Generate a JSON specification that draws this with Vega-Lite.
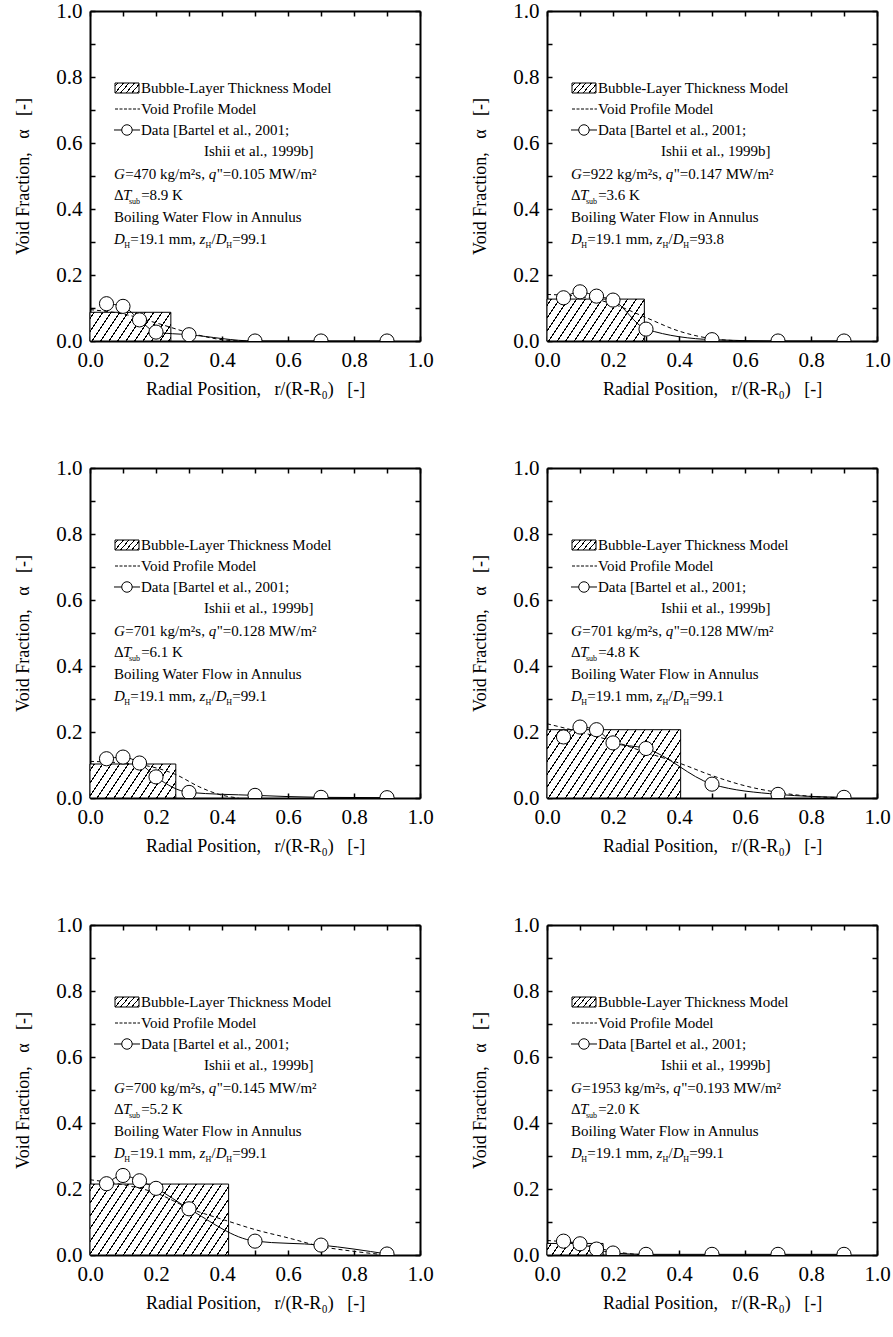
{
"$schema":"https://vega.github.io/schema/vega-lite/v6.json",
"background":"white",
"padding":{"left":14,"top":0,"right":5,"bottom":5},
"datasets":{
"bars":[{"p":1,"r":0.245,"a":0.087},{"p":2,"r":0.295,"a":0.127},{"p":3,"r":0.26,"a":0.103},{"p":4,"r":0.405,"a":0.207},{"p":5,"r":0.42,"a":0.215},{"p":6,"r":0.17,"a":0.035}],
"pts":[
{"p":1,"r":0.05,"a":0.113},{"p":1,"r":0.1,"a":0.105},{"p":1,"r":0.15,"a":0.064},{"p":1,"r":0.2,"a":0.027},{"p":1,"r":0.3,"a":0.019},{"p":1,"r":0.5,"a":0.0},{"p":1,"r":0.7,"a":0.0},{"p":1,"r":0.9,"a":0.0},
{"p":2,"r":0.05,"a":0.131},{"p":2,"r":0.1,"a":0.149},{"p":2,"r":0.15,"a":0.136},{"p":2,"r":0.2,"a":0.124},{"p":2,"r":0.3,"a":0.036},{"p":2,"r":0.5,"a":0.004},{"p":2,"r":0.7,"a":0.0},{"p":2,"r":0.9,"a":0.0},
{"p":3,"r":0.05,"a":0.119},{"p":3,"r":0.1,"a":0.124},{"p":3,"r":0.15,"a":0.106},{"p":3,"r":0.2,"a":0.064},{"p":3,"r":0.3,"a":0.017},{"p":3,"r":0.5,"a":0.008},{"p":3,"r":0.7,"a":0.002},{"p":3,"r":0.9,"a":0.001},
{"p":4,"r":0.05,"a":0.185},{"p":4,"r":0.1,"a":0.215},{"p":4,"r":0.15,"a":0.207},{"p":4,"r":0.2,"a":0.167},{"p":4,"r":0.3,"a":0.15},{"p":4,"r":0.5,"a":0.042},{"p":4,"r":0.7,"a":0.011},{"p":4,"r":0.9,"a":0.002},
{"p":5,"r":0.05,"a":0.216},{"p":5,"r":0.1,"a":0.241},{"p":5,"r":0.15,"a":0.225},{"p":5,"r":0.2,"a":0.202},{"p":5,"r":0.3,"a":0.14},{"p":5,"r":0.5,"a":0.042},{"p":5,"r":0.7,"a":0.03},{"p":5,"r":0.9,"a":0.003},
{"p":6,"r":0.05,"a":0.042},{"p":6,"r":0.1,"a":0.034},{"p":6,"r":0.15,"a":0.018},{"p":6,"r":0.2,"a":0.006},{"p":6,"r":0.3,"a":0.002},{"p":6,"r":0.5,"a":0.002},{"p":6,"r":0.7,"a":0.002},{"p":6,"r":0.9,"a":0.002}
],
"model":[
{"p":1,"r":0,"a":0.095},{"p":1,"r":0.1,"a":0.082},{"p":1,"r":0.2,"a":0.055},{"p":1,"r":0.3,"a":0.025},{"p":1,"r":0.4,"a":0.004},{"p":1,"r":0.45,"a":0},
{"p":2,"r":0,"a":0.141},{"p":2,"r":0.1,"a":0.135},{"p":2,"r":0.2,"a":0.112},{"p":2,"r":0.3,"a":0.071},{"p":2,"r":0.4,"a":0.03},{"p":2,"r":0.5,"a":0.007},{"p":2,"r":0.6,"a":0},
{"p":3,"r":0,"a":0.111},{"p":3,"r":0.15,"a":0.101},{"p":3,"r":0.26,"a":0.071},{"p":3,"r":0.333,"a":0.033},{"p":3,"r":0.394,"a":0.01},{"p":3,"r":0.45,"a":0},
{"p":4,"r":0,"a":0.225},{"p":4,"r":0.1,"a":0.2},{"p":4,"r":0.2,"a":0.172},{"p":4,"r":0.3,"a":0.138},{"p":4,"r":0.4,"a":0.106},{"p":4,"r":0.5,"a":0.068},{"p":4,"r":0.6,"a":0.037},{"p":4,"r":0.7,"a":0.017},{"p":4,"r":0.8,"a":0.005},{"p":4,"r":0.9,"a":0.001},
{"p":5,"r":0,"a":0.228},{"p":5,"r":0.1,"a":0.213},{"p":5,"r":0.2,"a":0.188},{"p":5,"r":0.3,"a":0.142},{"p":5,"r":0.42,"a":0.102},{"p":5,"r":0.5,"a":0.077},{"p":5,"r":0.6,"a":0.052},{"p":5,"r":0.7,"a":0.026},{"p":5,"r":0.8,"a":0.011},{"p":5,"r":0.9,"a":0},
{"p":6,"r":0,"a":0.044},{"p":6,"r":0.1,"a":0.034},{"p":6,"r":0.2,"a":0.011},{"p":6,"r":0.25,"a":0.004},{"p":6,"r":0.3,"a":0}
],
"leg":[
{"k":"box","r":0.0758,"r2":0.1485,"a":0.7515,"a2":0.7818},
{"k":"dash","r":0.0758,"r2":0.1515,"a":0.703},
{"k":"line","r":0.0727,"r2":0.1515,"a":0.6394},
{"k":"pt","r":0.112,"a":0.6394}
],
"txt":[
{"p":0,"r":0.1545,"a":0.7515,"t":"Bubble-Layer Thickness Model"},
{"p":0,"r":0.1545,"a":0.6879,"t":"Void Profile Model"},
{"p":0,"r":0.1545,"a":0.6242,"t":"Data [Bartel et al., 2001;"},
{"p":0,"r":0.3455,"a":0.5606,"t":"Ishii et al., 1999b]"},
{"p":0,"r":0.0727,"a":0.4273,"t":"\u0394"},
{"p":0,"r":0.0727,"a":0.3606,"t":"Boiling Water Flow in Annulus"},
{"p":0,"r":0.1222,"a":0.2939,"t":"=19.1 mm,"},
{"p":0,"r":0.3682,"a":0.2939,"t":"/"},
{"p":1,"r":0.107,"a":0.4909,"t":"=470 kg/m\u00b2s,"},{"p":1,"r":0.3839,"a":0.4909,"t":"\"=0.105 MW/m\u00b2"},{"p":1,"r":0.155,"a":0.4273,"t":"=8.9 K"},{"p":1,"r":0.4309,"a":0.2939,"t":"=99.1"},
{"p":2,"r":0.107,"a":0.4909,"t":"=922 kg/m\u00b2s,"},{"p":2,"r":0.3839,"a":0.4909,"t":"\"=0.147 MW/m\u00b2"},{"p":2,"r":0.155,"a":0.4273,"t":"=3.6 K"},{"p":2,"r":0.4309,"a":0.2939,"t":"=93.8"},
{"p":3,"r":0.107,"a":0.4909,"t":"=701 kg/m\u00b2s,"},{"p":3,"r":0.3839,"a":0.4909,"t":"\"=0.128 MW/m\u00b2"},{"p":3,"r":0.155,"a":0.4273,"t":"=6.1 K"},{"p":3,"r":0.4309,"a":0.2939,"t":"=99.1"},
{"p":4,"r":0.107,"a":0.4909,"t":"=701 kg/m\u00b2s,"},{"p":4,"r":0.3839,"a":0.4909,"t":"\"=0.128 MW/m\u00b2"},{"p":4,"r":0.155,"a":0.4273,"t":"=4.8 K"},{"p":4,"r":0.4309,"a":0.2939,"t":"=99.1"},
{"p":5,"r":0.107,"a":0.4909,"t":"=700 kg/m\u00b2s,"},{"p":5,"r":0.3839,"a":0.4909,"t":"\"=0.145 MW/m\u00b2"},{"p":5,"r":0.155,"a":0.4273,"t":"=5.2 K"},{"p":5,"r":0.4309,"a":0.2939,"t":"=99.1"},
{"p":6,"r":0.107,"a":0.4909,"t":"=1953 kg/m\u00b2s,"},{"p":6,"r":0.4066,"a":0.4909,"t":"\"=0.193 MW/m\u00b2"},{"p":6,"r":0.155,"a":0.4273,"t":"=2.0 K"},{"p":6,"r":0.4309,"a":0.2939,"t":"=99.1"}
],
"itxt":[
{"p":0,"r":0.0727,"a":0.4909,"t":"G"},
{"p":0,"r":0.1,"a":0.4273,"t":"T"},
{"p":0,"r":0.0727,"a":0.2939,"t":"D"},
{"p":0,"r":0.3321,"a":0.2939,"t":"z"},
{"p":0,"r":0.3809,"a":0.2939,"t":"D"},
{"p":1,"r":0.3597,"a":0.4909,"t":"q"},{"p":2,"r":0.3597,"a":0.4909,"t":"q"},{"p":3,"r":0.3597,"a":0.4909,"t":"q"},{"p":4,"r":0.3597,"a":0.4909,"t":"q"},{"p":5,"r":0.3597,"a":0.4909,"t":"q"},{"p":6,"r":0.3824,"a":0.4909,"t":"q"}
],
"stxt":[
{"r":0.118,"a":0.4273,"t":"sub"},
{"r":0.104,"a":0.2939,"t":"H"},
{"r":0.3503,"a":0.2939,"t":"H"},
{"r":0.413,"a":0.2939,"t":"H"}
]
},
"columns":2,
"spacing":127,
"bounds":"flush",
"concat":[
{"width":330,"height":330,"resolve":{"axis":{"x":"independent","y":"independent"}},
"encoding":{"x":{"field":"r","type":"quantitative","scale":{"domain":[0,1],"nice":false},"axis":null},"y":{"field":"a","type":"quantitative","scale":{"domain":[0,1],"nice":false},"axis":null}},
"layer":[
{"data":{"name":"bars"},"transform":[{"filter":"datum.p==1"}],"mark":{"type":"rect","stroke":"black","strokeWidth":1,"fill":{"gradient":"linear","x1":0,"y1":0,"x2":2.1901,"y2":0.5183,"stops":[{"offset":0,"color":"#fff"},{"offset":0.0192,"color":"#fff"},{"offset":0.0192,"color":"#000"},{"offset":0.0262,"color":"#000"},{"offset":0.0262,"color":"#fff"},{"offset":0.0647,"color":"#fff"},{"offset":0.0647,"color":"#000"},{"offset":0.0717,"color":"#000"},{"offset":0.0717,"color":"#fff"},{"offset":0.1101,"color":"#fff"},{"offset":0.1101,"color":"#000"},{"offset":0.1172,"color":"#000"},{"offset":0.1172,"color":"#fff"},{"offset":0.1556,"color":"#fff"},{"offset":0.1556,"color":"#000"},{"offset":0.1626,"color":"#000"},{"offset":0.1626,"color":"#fff"},{"offset":0.201,"color":"#fff"},{"offset":0.201,"color":"#000"},{"offset":0.2081,"color":"#000"},{"offset":0.2081,"color":"#fff"},{"offset":0.2465,"color":"#fff"},{"offset":0.2465,"color":"#000"},{"offset":0.2535,"color":"#000"},{"offset":0.2535,"color":"#fff"},{"offset":0.2919,"color":"#fff"},{"offset":0.2919,"color":"#000"},{"offset":0.299,"color":"#000"},{"offset":0.299,"color":"#fff"},{"offset":0.3374,"color":"#fff"},{"offset":0.3374,"color":"#000"},{"offset":0.3444,"color":"#000"},{"offset":0.3444,"color":"#fff"},{"offset":0.3828,"color":"#fff"},{"offset":0.3828,"color":"#000"},{"offset":0.3899,"color":"#000"},{"offset":0.3899,"color":"#fff"},{"offset":0.4283,"color":"#fff"},{"offset":0.4283,"color":"#000"},{"offset":0.4353,"color":"#000"},{"offset":0.4353,"color":"#fff"},{"offset":0.4737,"color":"#fff"},{"offset":0.4737,"color":"#000"},{"offset":0.4808,"color":"#000"},{"offset":0.4808,"color":"#fff"},{"offset":0.5192,"color":"#fff"},{"offset":0.5192,"color":"#000"},{"offset":0.5262,"color":"#000"},{"offset":0.5262,"color":"#fff"},{"offset":0.5647,"color":"#fff"},{"offset":0.5647,"color":"#000"},{"offset":0.5717,"color":"#000"},{"offset":0.5717,"color":"#fff"},{"offset":1,"color":"#fff"}]}},
"encoding":{"x":{"field":"r","type":"quantitative","scale":{"domain":[0,1],"nice":false},"axis":{"orient":"bottom","values":[0,0.1,0.2,0.3,0.4,0.5,0.6,0.7,0.8,0.9,1],"labelExpr":"round(datum.value*10)%2==0 ? format(datum.value,'.1f') : ''","title":"Radial Position,\u00a0\u00a0\u00a0r/(R-R\u2080)\u00a0\u00a0\u00a0[-]","titlePadding":10}},"x2":{"datum":0},"y":{"field":"a","type":"quantitative","scale":{"domain":[0,1],"nice":false},"axis":{"orient":"left","values":[0,0.1,0.2,0.3,0.4,0.5,0.6,0.7,0.8,0.9,1],"labelExpr":"round(datum.value*10)%2==0 ? format(datum.value,'.1f') : ''","title":"Void Fraction,\u00a0\u00a0\u00a0\u03b1\u00a0\u00a0\u00a0[-]","titlePadding":23}},"y2":{"datum":0}}},
{"data":{"name":"model"},"transform":[{"filter":"datum.p==1"}],"mark":{"type":"line","interpolate":"monotone","strokeDash":[4,3],"strokeWidth":1,"color":"black"},
"encoding":{"x":{"field":"r","type":"quantitative","scale":{"domain":[0,1],"nice":false},"axis":{"orient":"top","values":[0,0.1,0.2,0.3,0.4,0.5,0.6,0.7,0.8,0.9,1],"labels":false,"title":null}},"y":{"field":"a","type":"quantitative","scale":{"domain":[0,1],"nice":false},"axis":{"orient":"right","values":[0,0.1,0.2,0.3,0.4,0.5,0.6,0.7,0.8,0.9,1],"labels":false,"title":null}}}},
{"data":{"name":"pts"},"transform":[{"filter":"datum.p==1"}],"mark":{"type":"line","interpolate":"monotone","strokeWidth":1,"color":"black"}},
{"data":{"name":"pts"},"transform":[{"filter":"datum.p==1"}],"mark":{"type":"point","shape":"circle","filled":true,"fill":"white","stroke":"black","strokeWidth":1,"size":200,"opacity":1,"clip":true}},
{"data":{"name":"leg"},"transform":[{"filter":"datum.k=='box'"}],"mark":{"type":"rect","stroke":"black","strokeWidth":1,"fill":{"gradient":"linear","x1":0,"y1":0,"x2":1.2395,"y2":0.4304,"stops":[{"offset":0,"color":"#fff"},{"offset":0.0656,"color":"#fff"},{"offset":0.0656,"color":"#000"},{"offset":0.1011,"color":"#000"},{"offset":0.1011,"color":"#fff"},{"offset":0.2323,"color":"#fff"},{"offset":0.2323,"color":"#000"},{"offset":0.2678,"color":"#000"},{"offset":0.2678,"color":"#fff"},{"offset":0.3989,"color":"#fff"},{"offset":0.3989,"color":"#000"},{"offset":0.4344,"color":"#000"},{"offset":0.4344,"color":"#fff"},{"offset":0.5656,"color":"#fff"},{"offset":0.5656,"color":"#000"},{"offset":0.6011,"color":"#000"},{"offset":0.6011,"color":"#fff"},{"offset":0.7323,"color":"#fff"},{"offset":0.7323,"color":"#000"},{"offset":0.7678,"color":"#000"},{"offset":0.7678,"color":"#fff"},{"offset":0.8989,"color":"#fff"},{"offset":0.8989,"color":"#000"},{"offset":0.9344,"color":"#000"},{"offset":0.9344,"color":"#fff"}]}},"encoding":{"x2":{"field":"r2"},"y2":{"field":"a2"}}},
{"data":{"name":"leg"},"transform":[{"filter":"datum.k=='dash'"}],"mark":{"type":"rule","strokeDash":[3,1.5],"strokeWidth":1,"color":"black"},"encoding":{"x2":{"field":"r2"}}},
{"data":{"name":"leg"},"transform":[{"filter":"datum.k=='line'"}],"mark":{"type":"rule","strokeWidth":1,"color":"black"},"encoding":{"x2":{"field":"r2"}}},
{"data":{"name":"leg"},"transform":[{"filter":"datum.k=='pt'"}],"mark":{"type":"point","shape":"circle","filled":true,"fill":"white","stroke":"black","strokeWidth":1,"size":110,"opacity":1}},
{"data":{"name":"txt"},"transform":[{"filter":"datum.p==0||datum.p==1"}],"mark":{"type":"text","align":"left","baseline":"alphabetic","font":"Liberation Serif","fontSize":15,"color":"black"},"encoding":{"text":{"field":"t"}}},
{"data":{"name":"itxt"},"transform":[{"filter":"datum.p==0||datum.p==1"}],"mark":{"type":"text","align":"left","baseline":"alphabetic","font":"Liberation Serif","fontSize":15,"fontStyle":"italic","color":"black"},"encoding":{"text":{"field":"t"}}},
{"data":{"name":"stxt"},"mark":{"type":"text","align":"left","baseline":"alphabetic","font":"Liberation Serif","fontSize":8,"dy":4,"color":"black"},"encoding":{"text":{"field":"t"}}}
]},
{"width":330,"height":330,"resolve":{"axis":{"x":"independent","y":"independent"}},
"encoding":{"x":{"field":"r","type":"quantitative","scale":{"domain":[0,1],"nice":false},"axis":null},"y":{"field":"a","type":"quantitative","scale":{"domain":[0,1],"nice":false},"axis":null}},
"layer":[
{"data":{"name":"bars"},"transform":[{"filter":"datum.p==2"}],"mark":{"type":"rect","stroke":"black","strokeWidth":1,"fill":{"gradient":"linear","x1":0,"y1":0,"x2":1.7747,"y2":0.5092,"stops":[{"offset":0,"color":"#fff"},{"offset":0.0192,"color":"#fff"},{"offset":0.0192,"color":"#000"},{"offset":0.0262,"color":"#000"},{"offset":0.0262,"color":"#fff"},{"offset":0.0647,"color":"#fff"},{"offset":0.0647,"color":"#000"},{"offset":0.0717,"color":"#000"},{"offset":0.0717,"color":"#fff"},{"offset":0.1101,"color":"#fff"},{"offset":0.1101,"color":"#000"},{"offset":0.1172,"color":"#000"},{"offset":0.1172,"color":"#fff"},{"offset":0.1556,"color":"#fff"},{"offset":0.1556,"color":"#000"},{"offset":0.1626,"color":"#000"},{"offset":0.1626,"color":"#fff"},{"offset":0.201,"color":"#fff"},{"offset":0.201,"color":"#000"},{"offset":0.2081,"color":"#000"},{"offset":0.2081,"color":"#fff"},{"offset":0.2465,"color":"#fff"},{"offset":0.2465,"color":"#000"},{"offset":0.2535,"color":"#000"},{"offset":0.2535,"color":"#fff"},{"offset":0.2919,"color":"#fff"},{"offset":0.2919,"color":"#000"},{"offset":0.299,"color":"#000"},{"offset":0.299,"color":"#fff"},{"offset":0.3374,"color":"#fff"},{"offset":0.3374,"color":"#000"},{"offset":0.3444,"color":"#000"},{"offset":0.3444,"color":"#fff"},{"offset":0.3828,"color":"#fff"},{"offset":0.3828,"color":"#000"},{"offset":0.3899,"color":"#000"},{"offset":0.3899,"color":"#fff"},{"offset":0.4283,"color":"#fff"},{"offset":0.4283,"color":"#000"},{"offset":0.4353,"color":"#000"},{"offset":0.4353,"color":"#fff"},{"offset":0.4737,"color":"#fff"},{"offset":0.4737,"color":"#000"},{"offset":0.4808,"color":"#000"},{"offset":0.4808,"color":"#fff"},{"offset":0.5192,"color":"#fff"},{"offset":0.5192,"color":"#000"},{"offset":0.5262,"color":"#000"},{"offset":0.5262,"color":"#fff"},{"offset":0.5647,"color":"#fff"},{"offset":0.5647,"color":"#000"},{"offset":0.5717,"color":"#000"},{"offset":0.5717,"color":"#fff"},{"offset":0.6101,"color":"#fff"},{"offset":0.6101,"color":"#000"},{"offset":0.6172,"color":"#000"},{"offset":0.6172,"color":"#fff"},{"offset":0.6556,"color":"#fff"},{"offset":0.6556,"color":"#000"},{"offset":0.6626,"color":"#000"},{"offset":0.6626,"color":"#fff"},{"offset":0.701,"color":"#fff"},{"offset":0.701,"color":"#000"},{"offset":0.7081,"color":"#000"},{"offset":0.7081,"color":"#fff"},{"offset":1,"color":"#fff"}]}},
"encoding":{"x":{"field":"r","type":"quantitative","scale":{"domain":[0,1],"nice":false},"axis":{"orient":"bottom","values":[0,0.1,0.2,0.3,0.4,0.5,0.6,0.7,0.8,0.9,1],"labelExpr":"round(datum.value*10)%2==0 ? format(datum.value,'.1f') : ''","title":"Radial Position,\u00a0\u00a0\u00a0r/(R-R\u2080)\u00a0\u00a0\u00a0[-]","titlePadding":10}},"x2":{"datum":0},"y":{"field":"a","type":"quantitative","scale":{"domain":[0,1],"nice":false},"axis":{"orient":"left","values":[0,0.1,0.2,0.3,0.4,0.5,0.6,0.7,0.8,0.9,1],"labelExpr":"round(datum.value*10)%2==0 ? format(datum.value,'.1f') : ''","title":"Void Fraction,\u00a0\u00a0\u00a0\u03b1\u00a0\u00a0\u00a0[-]","titlePadding":23}},"y2":{"datum":0}}},
{"data":{"name":"model"},"transform":[{"filter":"datum.p==2"}],"mark":{"type":"line","interpolate":"monotone","strokeDash":[4,3],"strokeWidth":1,"color":"black"},
"encoding":{"x":{"field":"r","type":"quantitative","scale":{"domain":[0,1],"nice":false},"axis":{"orient":"top","values":[0,0.1,0.2,0.3,0.4,0.5,0.6,0.7,0.8,0.9,1],"labels":false,"title":null}},"y":{"field":"a","type":"quantitative","scale":{"domain":[0,1],"nice":false},"axis":{"orient":"right","values":[0,0.1,0.2,0.3,0.4,0.5,0.6,0.7,0.8,0.9,1],"labels":false,"title":null}}}},
{"data":{"name":"pts"},"transform":[{"filter":"datum.p==2"}],"mark":{"type":"line","interpolate":"monotone","strokeWidth":1,"color":"black"}},
{"data":{"name":"pts"},"transform":[{"filter":"datum.p==2"}],"mark":{"type":"point","shape":"circle","filled":true,"fill":"white","stroke":"black","strokeWidth":1,"size":200,"opacity":1,"clip":true}},
{"data":{"name":"leg"},"transform":[{"filter":"datum.k=='box'"}],"mark":{"type":"rect","stroke":"black","strokeWidth":1,"fill":{"gradient":"linear","x1":0,"y1":0,"x2":1.2395,"y2":0.4304,"stops":[{"offset":0,"color":"#fff"},{"offset":0.0656,"color":"#fff"},{"offset":0.0656,"color":"#000"},{"offset":0.1011,"color":"#000"},{"offset":0.1011,"color":"#fff"},{"offset":0.2323,"color":"#fff"},{"offset":0.2323,"color":"#000"},{"offset":0.2678,"color":"#000"},{"offset":0.2678,"color":"#fff"},{"offset":0.3989,"color":"#fff"},{"offset":0.3989,"color":"#000"},{"offset":0.4344,"color":"#000"},{"offset":0.4344,"color":"#fff"},{"offset":0.5656,"color":"#fff"},{"offset":0.5656,"color":"#000"},{"offset":0.6011,"color":"#000"},{"offset":0.6011,"color":"#fff"},{"offset":0.7323,"color":"#fff"},{"offset":0.7323,"color":"#000"},{"offset":0.7678,"color":"#000"},{"offset":0.7678,"color":"#fff"},{"offset":0.8989,"color":"#fff"},{"offset":0.8989,"color":"#000"},{"offset":0.9344,"color":"#000"},{"offset":0.9344,"color":"#fff"}]}},"encoding":{"x2":{"field":"r2"},"y2":{"field":"a2"}}},
{"data":{"name":"leg"},"transform":[{"filter":"datum.k=='dash'"}],"mark":{"type":"rule","strokeDash":[3,1.5],"strokeWidth":1,"color":"black"},"encoding":{"x2":{"field":"r2"}}},
{"data":{"name":"leg"},"transform":[{"filter":"datum.k=='line'"}],"mark":{"type":"rule","strokeWidth":1,"color":"black"},"encoding":{"x2":{"field":"r2"}}},
{"data":{"name":"leg"},"transform":[{"filter":"datum.k=='pt'"}],"mark":{"type":"point","shape":"circle","filled":true,"fill":"white","stroke":"black","strokeWidth":1,"size":110,"opacity":1}},
{"data":{"name":"txt"},"transform":[{"filter":"datum.p==0||datum.p==2"}],"mark":{"type":"text","align":"left","baseline":"alphabetic","font":"Liberation Serif","fontSize":15,"color":"black"},"encoding":{"text":{"field":"t"}}},
{"data":{"name":"itxt"},"transform":[{"filter":"datum.p==0||datum.p==2"}],"mark":{"type":"text","align":"left","baseline":"alphabetic","font":"Liberation Serif","fontSize":15,"fontStyle":"italic","color":"black"},"encoding":{"text":{"field":"t"}}},
{"data":{"name":"stxt"},"mark":{"type":"text","align":"left","baseline":"alphabetic","font":"Liberation Serif","fontSize":8,"dy":4,"color":"black"},"encoding":{"text":{"field":"t"}}}
]},
{"width":330,"height":330,"resolve":{"axis":{"x":"independent","y":"independent"}},
"encoding":{"x":{"field":"r","type":"quantitative","scale":{"domain":[0,1],"nice":false},"axis":null},"y":{"field":"a","type":"quantitative","scale":{"domain":[0,1],"nice":false},"axis":null}},
"layer":[
{"data":{"name":"bars"},"transform":[{"filter":"datum.p==3"}],"mark":{"type":"rect","stroke":"black","strokeWidth":1,"fill":{"gradient":"linear","x1":0,"y1":0,"x2":2.0372,"y2":0.5382,"stops":[{"offset":0,"color":"#fff"},{"offset":0.0192,"color":"#fff"},{"offset":0.0192,"color":"#000"},{"offset":0.0262,"color":"#000"},{"offset":0.0262,"color":"#fff"},{"offset":0.0647,"color":"#fff"},{"offset":0.0647,"color":"#000"},{"offset":0.0717,"color":"#000"},{"offset":0.0717,"color":"#fff"},{"offset":0.1101,"color":"#fff"},{"offset":0.1101,"color":"#000"},{"offset":0.1172,"color":"#000"},{"offset":0.1172,"color":"#fff"},{"offset":0.1556,"color":"#fff"},{"offset":0.1556,"color":"#000"},{"offset":0.1626,"color":"#000"},{"offset":0.1626,"color":"#fff"},{"offset":0.201,"color":"#fff"},{"offset":0.201,"color":"#000"},{"offset":0.2081,"color":"#000"},{"offset":0.2081,"color":"#fff"},{"offset":0.2465,"color":"#fff"},{"offset":0.2465,"color":"#000"},{"offset":0.2535,"color":"#000"},{"offset":0.2535,"color":"#fff"},{"offset":0.2919,"color":"#fff"},{"offset":0.2919,"color":"#000"},{"offset":0.299,"color":"#000"},{"offset":0.299,"color":"#fff"},{"offset":0.3374,"color":"#fff"},{"offset":0.3374,"color":"#000"},{"offset":0.3444,"color":"#000"},{"offset":0.3444,"color":"#fff"},{"offset":0.3828,"color":"#fff"},{"offset":0.3828,"color":"#000"},{"offset":0.3899,"color":"#000"},{"offset":0.3899,"color":"#fff"},{"offset":0.4283,"color":"#fff"},{"offset":0.4283,"color":"#000"},{"offset":0.4353,"color":"#000"},{"offset":0.4353,"color":"#fff"},{"offset":0.4737,"color":"#fff"},{"offset":0.4737,"color":"#000"},{"offset":0.4808,"color":"#000"},{"offset":0.4808,"color":"#fff"},{"offset":0.5192,"color":"#fff"},{"offset":0.5192,"color":"#000"},{"offset":0.5262,"color":"#000"},{"offset":0.5262,"color":"#fff"},{"offset":0.5647,"color":"#fff"},{"offset":0.5647,"color":"#000"},{"offset":0.5717,"color":"#000"},{"offset":0.5717,"color":"#fff"},{"offset":0.6101,"color":"#fff"},{"offset":0.6101,"color":"#000"},{"offset":0.6172,"color":"#000"},{"offset":0.6172,"color":"#fff"},{"offset":1,"color":"#fff"}]}},
"encoding":{"x":{"field":"r","type":"quantitative","scale":{"domain":[0,1],"nice":false},"axis":{"orient":"bottom","values":[0,0.1,0.2,0.3,0.4,0.5,0.6,0.7,0.8,0.9,1],"labelExpr":"round(datum.value*10)%2==0 ? format(datum.value,'.1f') : ''","title":"Radial Position,\u00a0\u00a0\u00a0r/(R-R\u2080)\u00a0\u00a0\u00a0[-]","titlePadding":10}},"x2":{"datum":0},"y":{"field":"a","type":"quantitative","scale":{"domain":[0,1],"nice":false},"axis":{"orient":"left","values":[0,0.1,0.2,0.3,0.4,0.5,0.6,0.7,0.8,0.9,1],"labelExpr":"round(datum.value*10)%2==0 ? format(datum.value,'.1f') : ''","title":"Void Fraction,\u00a0\u00a0\u00a0\u03b1\u00a0\u00a0\u00a0[-]","titlePadding":23}},"y2":{"datum":0}}},
{"data":{"name":"model"},"transform":[{"filter":"datum.p==3"}],"mark":{"type":"line","interpolate":"monotone","strokeDash":[4,3],"strokeWidth":1,"color":"black"},
"encoding":{"x":{"field":"r","type":"quantitative","scale":{"domain":[0,1],"nice":false},"axis":{"orient":"top","values":[0,0.1,0.2,0.3,0.4,0.5,0.6,0.7,0.8,0.9,1],"labels":false,"title":null}},"y":{"field":"a","type":"quantitative","scale":{"domain":[0,1],"nice":false},"axis":{"orient":"right","values":[0,0.1,0.2,0.3,0.4,0.5,0.6,0.7,0.8,0.9,1],"labels":false,"title":null}}}},
{"data":{"name":"pts"},"transform":[{"filter":"datum.p==3"}],"mark":{"type":"line","interpolate":"monotone","strokeWidth":1,"color":"black"}},
{"data":{"name":"pts"},"transform":[{"filter":"datum.p==3"}],"mark":{"type":"point","shape":"circle","filled":true,"fill":"white","stroke":"black","strokeWidth":1,"size":200,"opacity":1,"clip":true}},
{"data":{"name":"leg"},"transform":[{"filter":"datum.k=='box'"}],"mark":{"type":"rect","stroke":"black","strokeWidth":1,"fill":{"gradient":"linear","x1":0,"y1":0,"x2":1.2395,"y2":0.4304,"stops":[{"offset":0,"color":"#fff"},{"offset":0.0656,"color":"#fff"},{"offset":0.0656,"color":"#000"},{"offset":0.1011,"color":"#000"},{"offset":0.1011,"color":"#fff"},{"offset":0.2323,"color":"#fff"},{"offset":0.2323,"color":"#000"},{"offset":0.2678,"color":"#000"},{"offset":0.2678,"color":"#fff"},{"offset":0.3989,"color":"#fff"},{"offset":0.3989,"color":"#000"},{"offset":0.4344,"color":"#000"},{"offset":0.4344,"color":"#fff"},{"offset":0.5656,"color":"#fff"},{"offset":0.5656,"color":"#000"},{"offset":0.6011,"color":"#000"},{"offset":0.6011,"color":"#fff"},{"offset":0.7323,"color":"#fff"},{"offset":0.7323,"color":"#000"},{"offset":0.7678,"color":"#000"},{"offset":0.7678,"color":"#fff"},{"offset":0.8989,"color":"#fff"},{"offset":0.8989,"color":"#000"},{"offset":0.9344,"color":"#000"},{"offset":0.9344,"color":"#fff"}]}},"encoding":{"x2":{"field":"r2"},"y2":{"field":"a2"}}},
{"data":{"name":"leg"},"transform":[{"filter":"datum.k=='dash'"}],"mark":{"type":"rule","strokeDash":[3,1.5],"strokeWidth":1,"color":"black"},"encoding":{"x2":{"field":"r2"}}},
{"data":{"name":"leg"},"transform":[{"filter":"datum.k=='line'"}],"mark":{"type":"rule","strokeWidth":1,"color":"black"},"encoding":{"x2":{"field":"r2"}}},
{"data":{"name":"leg"},"transform":[{"filter":"datum.k=='pt'"}],"mark":{"type":"point","shape":"circle","filled":true,"fill":"white","stroke":"black","strokeWidth":1,"size":110,"opacity":1}},
{"data":{"name":"txt"},"transform":[{"filter":"datum.p==0||datum.p==3"}],"mark":{"type":"text","align":"left","baseline":"alphabetic","font":"Liberation Serif","fontSize":15,"color":"black"},"encoding":{"text":{"field":"t"}}},
{"data":{"name":"itxt"},"transform":[{"filter":"datum.p==0||datum.p==3"}],"mark":{"type":"text","align":"left","baseline":"alphabetic","font":"Liberation Serif","fontSize":15,"fontStyle":"italic","color":"black"},"encoding":{"text":{"field":"t"}}},
{"data":{"name":"stxt"},"mark":{"type":"text","align":"left","baseline":"alphabetic","font":"Liberation Serif","fontSize":8,"dy":4,"color":"black"},"encoding":{"text":{"field":"t"}}}
]},
{"width":330,"height":330,"resolve":{"axis":{"x":"independent","y":"independent"}},
"encoding":{"x":{"field":"r","type":"quantitative","scale":{"domain":[0,1],"nice":false},"axis":null},"y":{"field":"a","type":"quantitative","scale":{"domain":[0,1],"nice":false},"axis":null}},
"layer":[
{"data":{"name":"bars"},"transform":[{"filter":"datum.p==4"}],"mark":{"type":"rect","stroke":"black","strokeWidth":1,"fill":{"gradient":"linear","x1":0,"y1":0,"x2":1.2536,"y2":0.4271,"stops":[{"offset":0,"color":"#fff"},{"offset":0.0192,"color":"#fff"},{"offset":0.0192,"color":"#000"},{"offset":0.0262,"color":"#000"},{"offset":0.0262,"color":"#fff"},{"offset":0.0647,"color":"#fff"},{"offset":0.0647,"color":"#000"},{"offset":0.0717,"color":"#000"},{"offset":0.0717,"color":"#fff"},{"offset":0.1101,"color":"#fff"},{"offset":0.1101,"color":"#000"},{"offset":0.1172,"color":"#000"},{"offset":0.1172,"color":"#fff"},{"offset":0.1556,"color":"#fff"},{"offset":0.1556,"color":"#000"},{"offset":0.1626,"color":"#000"},{"offset":0.1626,"color":"#fff"},{"offset":0.201,"color":"#fff"},{"offset":0.201,"color":"#000"},{"offset":0.2081,"color":"#000"},{"offset":0.2081,"color":"#fff"},{"offset":0.2465,"color":"#fff"},{"offset":0.2465,"color":"#000"},{"offset":0.2535,"color":"#000"},{"offset":0.2535,"color":"#fff"},{"offset":0.2919,"color":"#fff"},{"offset":0.2919,"color":"#000"},{"offset":0.299,"color":"#000"},{"offset":0.299,"color":"#fff"},{"offset":0.3374,"color":"#fff"},{"offset":0.3374,"color":"#000"},{"offset":0.3444,"color":"#000"},{"offset":0.3444,"color":"#fff"},{"offset":0.3828,"color":"#fff"},{"offset":0.3828,"color":"#000"},{"offset":0.3899,"color":"#000"},{"offset":0.3899,"color":"#fff"},{"offset":0.4283,"color":"#fff"},{"offset":0.4283,"color":"#000"},{"offset":0.4353,"color":"#000"},{"offset":0.4353,"color":"#fff"},{"offset":0.4737,"color":"#fff"},{"offset":0.4737,"color":"#000"},{"offset":0.4808,"color":"#000"},{"offset":0.4808,"color":"#fff"},{"offset":0.5192,"color":"#fff"},{"offset":0.5192,"color":"#000"},{"offset":0.5262,"color":"#000"},{"offset":0.5262,"color":"#fff"},{"offset":0.5647,"color":"#fff"},{"offset":0.5647,"color":"#000"},{"offset":0.5717,"color":"#000"},{"offset":0.5717,"color":"#fff"},{"offset":0.6101,"color":"#fff"},{"offset":0.6101,"color":"#000"},{"offset":0.6172,"color":"#000"},{"offset":0.6172,"color":"#fff"},{"offset":0.6556,"color":"#fff"},{"offset":0.6556,"color":"#000"},{"offset":0.6626,"color":"#000"},{"offset":0.6626,"color":"#fff"},{"offset":0.701,"color":"#fff"},{"offset":0.701,"color":"#000"},{"offset":0.7081,"color":"#000"},{"offset":0.7081,"color":"#fff"},{"offset":0.7465,"color":"#fff"},{"offset":0.7465,"color":"#000"},{"offset":0.7535,"color":"#000"},{"offset":0.7535,"color":"#fff"},{"offset":0.7919,"color":"#fff"},{"offset":0.7919,"color":"#000"},{"offset":0.799,"color":"#000"},{"offset":0.799,"color":"#fff"},{"offset":0.8374,"color":"#fff"},{"offset":0.8374,"color":"#000"},{"offset":0.8444,"color":"#000"},{"offset":0.8444,"color":"#fff"},{"offset":0.8828,"color":"#fff"},{"offset":0.8828,"color":"#000"},{"offset":0.8899,"color":"#000"},{"offset":0.8899,"color":"#fff"},{"offset":0.9283,"color":"#fff"},{"offset":0.9283,"color":"#000"},{"offset":0.9353,"color":"#000"},{"offset":0.9353,"color":"#fff"},{"offset":0.9737,"color":"#fff"},{"offset":0.9737,"color":"#000"},{"offset":0.9808,"color":"#000"},{"offset":0.9808,"color":"#fff"}]}},
"encoding":{"x":{"field":"r","type":"quantitative","scale":{"domain":[0,1],"nice":false},"axis":{"orient":"bottom","values":[0,0.1,0.2,0.3,0.4,0.5,0.6,0.7,0.8,0.9,1],"labelExpr":"round(datum.value*10)%2==0 ? format(datum.value,'.1f') : ''","title":"Radial Position,\u00a0\u00a0\u00a0r/(R-R\u2080)\u00a0\u00a0\u00a0[-]","titlePadding":10}},"x2":{"datum":0},"y":{"field":"a","type":"quantitative","scale":{"domain":[0,1],"nice":false},"axis":{"orient":"left","values":[0,0.1,0.2,0.3,0.4,0.5,0.6,0.7,0.8,0.9,1],"labelExpr":"round(datum.value*10)%2==0 ? format(datum.value,'.1f') : ''","title":"Void Fraction,\u00a0\u00a0\u00a0\u03b1\u00a0\u00a0\u00a0[-]","titlePadding":23}},"y2":{"datum":0}}},
{"data":{"name":"model"},"transform":[{"filter":"datum.p==4"}],"mark":{"type":"line","interpolate":"monotone","strokeDash":[4,3],"strokeWidth":1,"color":"black"},
"encoding":{"x":{"field":"r","type":"quantitative","scale":{"domain":[0,1],"nice":false},"axis":{"orient":"top","values":[0,0.1,0.2,0.3,0.4,0.5,0.6,0.7,0.8,0.9,1],"labels":false,"title":null}},"y":{"field":"a","type":"quantitative","scale":{"domain":[0,1],"nice":false},"axis":{"orient":"right","values":[0,0.1,0.2,0.3,0.4,0.5,0.6,0.7,0.8,0.9,1],"labels":false,"title":null}}}},
{"data":{"name":"pts"},"transform":[{"filter":"datum.p==4"}],"mark":{"type":"line","interpolate":"monotone","strokeWidth":1,"color":"black"}},
{"data":{"name":"pts"},"transform":[{"filter":"datum.p==4"}],"mark":{"type":"point","shape":"circle","filled":true,"fill":"white","stroke":"black","strokeWidth":1,"size":200,"opacity":1,"clip":true}},
{"data":{"name":"leg"},"transform":[{"filter":"datum.k=='box'"}],"mark":{"type":"rect","stroke":"black","strokeWidth":1,"fill":{"gradient":"linear","x1":0,"y1":0,"x2":1.2395,"y2":0.4304,"stops":[{"offset":0,"color":"#fff"},{"offset":0.0656,"color":"#fff"},{"offset":0.0656,"color":"#000"},{"offset":0.1011,"color":"#000"},{"offset":0.1011,"color":"#fff"},{"offset":0.2323,"color":"#fff"},{"offset":0.2323,"color":"#000"},{"offset":0.2678,"color":"#000"},{"offset":0.2678,"color":"#fff"},{"offset":0.3989,"color":"#fff"},{"offset":0.3989,"color":"#000"},{"offset":0.4344,"color":"#000"},{"offset":0.4344,"color":"#fff"},{"offset":0.5656,"color":"#fff"},{"offset":0.5656,"color":"#000"},{"offset":0.6011,"color":"#000"},{"offset":0.6011,"color":"#fff"},{"offset":0.7323,"color":"#fff"},{"offset":0.7323,"color":"#000"},{"offset":0.7678,"color":"#000"},{"offset":0.7678,"color":"#fff"},{"offset":0.8989,"color":"#fff"},{"offset":0.8989,"color":"#000"},{"offset":0.9344,"color":"#000"},{"offset":0.9344,"color":"#fff"}]}},"encoding":{"x2":{"field":"r2"},"y2":{"field":"a2"}}},
{"data":{"name":"leg"},"transform":[{"filter":"datum.k=='dash'"}],"mark":{"type":"rule","strokeDash":[3,1.5],"strokeWidth":1,"color":"black"},"encoding":{"x2":{"field":"r2"}}},
{"data":{"name":"leg"},"transform":[{"filter":"datum.k=='line'"}],"mark":{"type":"rule","strokeWidth":1,"color":"black"},"encoding":{"x2":{"field":"r2"}}},
{"data":{"name":"leg"},"transform":[{"filter":"datum.k=='pt'"}],"mark":{"type":"point","shape":"circle","filled":true,"fill":"white","stroke":"black","strokeWidth":1,"size":110,"opacity":1}},
{"data":{"name":"txt"},"transform":[{"filter":"datum.p==0||datum.p==4"}],"mark":{"type":"text","align":"left","baseline":"alphabetic","font":"Liberation Serif","fontSize":15,"color":"black"},"encoding":{"text":{"field":"t"}}},
{"data":{"name":"itxt"},"transform":[{"filter":"datum.p==0||datum.p==4"}],"mark":{"type":"text","align":"left","baseline":"alphabetic","font":"Liberation Serif","fontSize":15,"fontStyle":"italic","color":"black"},"encoding":{"text":{"field":"t"}}},
{"data":{"name":"stxt"},"mark":{"type":"text","align":"left","baseline":"alphabetic","font":"Liberation Serif","fontSize":8,"dy":4,"color":"black"},"encoding":{"text":{"field":"t"}}}
]},
{"width":330,"height":330,"resolve":{"axis":{"x":"independent","y":"independent"}},
"encoding":{"x":{"field":"r","type":"quantitative","scale":{"domain":[0,1],"nice":false},"axis":null},"y":{"field":"a","type":"quantitative","scale":{"domain":[0,1],"nice":false},"axis":null}},
"layer":[
{"data":{"name":"bars"},"transform":[{"filter":"datum.p==5"}],"mark":{"type":"rect","stroke":"black","strokeWidth":1,"fill":{"gradient":"linear","x1":0,"y1":0,"x2":1.2084,"y2":0.4124,"stops":[{"offset":0,"color":"#fff"},{"offset":0.0192,"color":"#fff"},{"offset":0.0192,"color":"#000"},{"offset":0.0262,"color":"#000"},{"offset":0.0262,"color":"#fff"},{"offset":0.0647,"color":"#fff"},{"offset":0.0647,"color":"#000"},{"offset":0.0717,"color":"#000"},{"offset":0.0717,"color":"#fff"},{"offset":0.1101,"color":"#fff"},{"offset":0.1101,"color":"#000"},{"offset":0.1172,"color":"#000"},{"offset":0.1172,"color":"#fff"},{"offset":0.1556,"color":"#fff"},{"offset":0.1556,"color":"#000"},{"offset":0.1626,"color":"#000"},{"offset":0.1626,"color":"#fff"},{"offset":0.201,"color":"#fff"},{"offset":0.201,"color":"#000"},{"offset":0.2081,"color":"#000"},{"offset":0.2081,"color":"#fff"},{"offset":0.2465,"color":"#fff"},{"offset":0.2465,"color":"#000"},{"offset":0.2535,"color":"#000"},{"offset":0.2535,"color":"#fff"},{"offset":0.2919,"color":"#fff"},{"offset":0.2919,"color":"#000"},{"offset":0.299,"color":"#000"},{"offset":0.299,"color":"#fff"},{"offset":0.3374,"color":"#fff"},{"offset":0.3374,"color":"#000"},{"offset":0.3444,"color":"#000"},{"offset":0.3444,"color":"#fff"},{"offset":0.3828,"color":"#fff"},{"offset":0.3828,"color":"#000"},{"offset":0.3899,"color":"#000"},{"offset":0.3899,"color":"#fff"},{"offset":0.4283,"color":"#fff"},{"offset":0.4283,"color":"#000"},{"offset":0.4353,"color":"#000"},{"offset":0.4353,"color":"#fff"},{"offset":0.4737,"color":"#fff"},{"offset":0.4737,"color":"#000"},{"offset":0.4808,"color":"#000"},{"offset":0.4808,"color":"#fff"},{"offset":0.5192,"color":"#fff"},{"offset":0.5192,"color":"#000"},{"offset":0.5262,"color":"#000"},{"offset":0.5262,"color":"#fff"},{"offset":0.5647,"color":"#fff"},{"offset":0.5647,"color":"#000"},{"offset":0.5717,"color":"#000"},{"offset":0.5717,"color":"#fff"},{"offset":0.6101,"color":"#fff"},{"offset":0.6101,"color":"#000"},{"offset":0.6172,"color":"#000"},{"offset":0.6172,"color":"#fff"},{"offset":0.6556,"color":"#fff"},{"offset":0.6556,"color":"#000"},{"offset":0.6626,"color":"#000"},{"offset":0.6626,"color":"#fff"},{"offset":0.701,"color":"#fff"},{"offset":0.701,"color":"#000"},{"offset":0.7081,"color":"#000"},{"offset":0.7081,"color":"#fff"},{"offset":0.7465,"color":"#fff"},{"offset":0.7465,"color":"#000"},{"offset":0.7535,"color":"#000"},{"offset":0.7535,"color":"#fff"},{"offset":0.7919,"color":"#fff"},{"offset":0.7919,"color":"#000"},{"offset":0.799,"color":"#000"},{"offset":0.799,"color":"#fff"},{"offset":0.8374,"color":"#fff"},{"offset":0.8374,"color":"#000"},{"offset":0.8444,"color":"#000"},{"offset":0.8444,"color":"#fff"},{"offset":0.8828,"color":"#fff"},{"offset":0.8828,"color":"#000"},{"offset":0.8899,"color":"#000"},{"offset":0.8899,"color":"#fff"},{"offset":0.9283,"color":"#fff"},{"offset":0.9283,"color":"#000"},{"offset":0.9353,"color":"#000"},{"offset":0.9353,"color":"#fff"},{"offset":0.9737,"color":"#fff"},{"offset":0.9737,"color":"#000"},{"offset":0.9808,"color":"#000"},{"offset":0.9808,"color":"#fff"}]}},
"encoding":{"x":{"field":"r","type":"quantitative","scale":{"domain":[0,1],"nice":false},"axis":{"orient":"bottom","values":[0,0.1,0.2,0.3,0.4,0.5,0.6,0.7,0.8,0.9,1],"labelExpr":"round(datum.value*10)%2==0 ? format(datum.value,'.1f') : ''","title":"Radial Position,\u00a0\u00a0\u00a0r/(R-R\u2080)\u00a0\u00a0\u00a0[-]","titlePadding":10}},"x2":{"datum":0},"y":{"field":"a","type":"quantitative","scale":{"domain":[0,1],"nice":false},"axis":{"orient":"left","values":[0,0.1,0.2,0.3,0.4,0.5,0.6,0.7,0.8,0.9,1],"labelExpr":"round(datum.value*10)%2==0 ? format(datum.value,'.1f') : ''","title":"Void Fraction,\u00a0\u00a0\u00a0\u03b1\u00a0\u00a0\u00a0[-]","titlePadding":23}},"y2":{"datum":0}}},
{"data":{"name":"model"},"transform":[{"filter":"datum.p==5"}],"mark":{"type":"line","interpolate":"monotone","strokeDash":[4,3],"strokeWidth":1,"color":"black"},
"encoding":{"x":{"field":"r","type":"quantitative","scale":{"domain":[0,1],"nice":false},"axis":{"orient":"top","values":[0,0.1,0.2,0.3,0.4,0.5,0.6,0.7,0.8,0.9,1],"labels":false,"title":null}},"y":{"field":"a","type":"quantitative","scale":{"domain":[0,1],"nice":false},"axis":{"orient":"right","values":[0,0.1,0.2,0.3,0.4,0.5,0.6,0.7,0.8,0.9,1],"labels":false,"title":null}}}},
{"data":{"name":"pts"},"transform":[{"filter":"datum.p==5"}],"mark":{"type":"line","interpolate":"monotone","strokeWidth":1,"color":"black"}},
{"data":{"name":"pts"},"transform":[{"filter":"datum.p==5"}],"mark":{"type":"point","shape":"circle","filled":true,"fill":"white","stroke":"black","strokeWidth":1,"size":200,"opacity":1,"clip":true}},
{"data":{"name":"leg"},"transform":[{"filter":"datum.k=='box'"}],"mark":{"type":"rect","stroke":"black","strokeWidth":1,"fill":{"gradient":"linear","x1":0,"y1":0,"x2":1.2395,"y2":0.4304,"stops":[{"offset":0,"color":"#fff"},{"offset":0.0656,"color":"#fff"},{"offset":0.0656,"color":"#000"},{"offset":0.1011,"color":"#000"},{"offset":0.1011,"color":"#fff"},{"offset":0.2323,"color":"#fff"},{"offset":0.2323,"color":"#000"},{"offset":0.2678,"color":"#000"},{"offset":0.2678,"color":"#fff"},{"offset":0.3989,"color":"#fff"},{"offset":0.3989,"color":"#000"},{"offset":0.4344,"color":"#000"},{"offset":0.4344,"color":"#fff"},{"offset":0.5656,"color":"#fff"},{"offset":0.5656,"color":"#000"},{"offset":0.6011,"color":"#000"},{"offset":0.6011,"color":"#fff"},{"offset":0.7323,"color":"#fff"},{"offset":0.7323,"color":"#000"},{"offset":0.7678,"color":"#000"},{"offset":0.7678,"color":"#fff"},{"offset":0.8989,"color":"#fff"},{"offset":0.8989,"color":"#000"},{"offset":0.9344,"color":"#000"},{"offset":0.9344,"color":"#fff"}]}},"encoding":{"x2":{"field":"r2"},"y2":{"field":"a2"}}},
{"data":{"name":"leg"},"transform":[{"filter":"datum.k=='dash'"}],"mark":{"type":"rule","strokeDash":[3,1.5],"strokeWidth":1,"color":"black"},"encoding":{"x2":{"field":"r2"}}},
{"data":{"name":"leg"},"transform":[{"filter":"datum.k=='line'"}],"mark":{"type":"rule","strokeWidth":1,"color":"black"},"encoding":{"x2":{"field":"r2"}}},
{"data":{"name":"leg"},"transform":[{"filter":"datum.k=='pt'"}],"mark":{"type":"point","shape":"circle","filled":true,"fill":"white","stroke":"black","strokeWidth":1,"size":110,"opacity":1}},
{"data":{"name":"txt"},"transform":[{"filter":"datum.p==0||datum.p==5"}],"mark":{"type":"text","align":"left","baseline":"alphabetic","font":"Liberation Serif","fontSize":15,"color":"black"},"encoding":{"text":{"field":"t"}}},
{"data":{"name":"itxt"},"transform":[{"filter":"datum.p==0||datum.p==5"}],"mark":{"type":"text","align":"left","baseline":"alphabetic","font":"Liberation Serif","fontSize":15,"fontStyle":"italic","color":"black"},"encoding":{"text":{"field":"t"}}},
{"data":{"name":"stxt"},"mark":{"type":"text","align":"left","baseline":"alphabetic","font":"Liberation Serif","fontSize":8,"dy":4,"color":"black"},"encoding":{"text":{"field":"t"}}}
]},
{"width":330,"height":330,"resolve":{"axis":{"x":"independent","y":"independent"}},
"encoding":{"x":{"field":"r","type":"quantitative","scale":{"domain":[0,1],"nice":false},"axis":null},"y":{"field":"a","type":"quantitative","scale":{"domain":[0,1],"nice":false},"axis":null}},
"layer":[
{"data":{"name":"bars"},"transform":[{"filter":"datum.p==6"}],"mark":{"type":"rect","stroke":"black","strokeWidth":1,"fill":{"gradient":"linear","x1":0,"y1":0,"x2":3.2715,"y2":0.449,"stops":[{"offset":0,"color":"#fff"},{"offset":0.0192,"color":"#fff"},{"offset":0.0192,"color":"#000"},{"offset":0.0262,"color":"#000"},{"offset":0.0262,"color":"#fff"},{"offset":0.0647,"color":"#fff"},{"offset":0.0647,"color":"#000"},{"offset":0.0717,"color":"#000"},{"offset":0.0717,"color":"#fff"},{"offset":0.1101,"color":"#fff"},{"offset":0.1101,"color":"#000"},{"offset":0.1172,"color":"#000"},{"offset":0.1172,"color":"#fff"},{"offset":0.1556,"color":"#fff"},{"offset":0.1556,"color":"#000"},{"offset":0.1626,"color":"#000"},{"offset":0.1626,"color":"#fff"},{"offset":0.201,"color":"#fff"},{"offset":0.201,"color":"#000"},{"offset":0.2081,"color":"#000"},{"offset":0.2081,"color":"#fff"},{"offset":0.2465,"color":"#fff"},{"offset":0.2465,"color":"#000"},{"offset":0.2535,"color":"#000"},{"offset":0.2535,"color":"#fff"},{"offset":0.2919,"color":"#fff"},{"offset":0.2919,"color":"#000"},{"offset":0.299,"color":"#000"},{"offset":0.299,"color":"#fff"},{"offset":0.3374,"color":"#fff"},{"offset":0.3374,"color":"#000"},{"offset":0.3444,"color":"#000"},{"offset":0.3444,"color":"#fff"},{"offset":1,"color":"#fff"}]}},
"encoding":{"x":{"field":"r","type":"quantitative","scale":{"domain":[0,1],"nice":false},"axis":{"orient":"bottom","values":[0,0.1,0.2,0.3,0.4,0.5,0.6,0.7,0.8,0.9,1],"labelExpr":"round(datum.value*10)%2==0 ? format(datum.value,'.1f') : ''","title":"Radial Position,\u00a0\u00a0\u00a0r/(R-R\u2080)\u00a0\u00a0\u00a0[-]","titlePadding":10}},"x2":{"datum":0},"y":{"field":"a","type":"quantitative","scale":{"domain":[0,1],"nice":false},"axis":{"orient":"left","values":[0,0.1,0.2,0.3,0.4,0.5,0.6,0.7,0.8,0.9,1],"labelExpr":"round(datum.value*10)%2==0 ? format(datum.value,'.1f') : ''","title":"Void Fraction,\u00a0\u00a0\u00a0\u03b1\u00a0\u00a0\u00a0[-]","titlePadding":23}},"y2":{"datum":0}}},
{"data":{"name":"model"},"transform":[{"filter":"datum.p==6"}],"mark":{"type":"line","interpolate":"monotone","strokeDash":[4,3],"strokeWidth":1,"color":"black"},
"encoding":{"x":{"field":"r","type":"quantitative","scale":{"domain":[0,1],"nice":false},"axis":{"orient":"top","values":[0,0.1,0.2,0.3,0.4,0.5,0.6,0.7,0.8,0.9,1],"labels":false,"title":null}},"y":{"field":"a","type":"quantitative","scale":{"domain":[0,1],"nice":false},"axis":{"orient":"right","values":[0,0.1,0.2,0.3,0.4,0.5,0.6,0.7,0.8,0.9,1],"labels":false,"title":null}}}},
{"data":{"name":"pts"},"transform":[{"filter":"datum.p==6"}],"mark":{"type":"line","interpolate":"monotone","strokeWidth":1,"color":"black"}},
{"data":{"name":"pts"},"transform":[{"filter":"datum.p==6"}],"mark":{"type":"point","shape":"circle","filled":true,"fill":"white","stroke":"black","strokeWidth":1,"size":200,"opacity":1,"clip":true}},
{"data":{"name":"leg"},"transform":[{"filter":"datum.k=='box'"}],"mark":{"type":"rect","stroke":"black","strokeWidth":1,"fill":{"gradient":"linear","x1":0,"y1":0,"x2":1.2395,"y2":0.4304,"stops":[{"offset":0,"color":"#fff"},{"offset":0.0656,"color":"#fff"},{"offset":0.0656,"color":"#000"},{"offset":0.1011,"color":"#000"},{"offset":0.1011,"color":"#fff"},{"offset":0.2323,"color":"#fff"},{"offset":0.2323,"color":"#000"},{"offset":0.2678,"color":"#000"},{"offset":0.2678,"color":"#fff"},{"offset":0.3989,"color":"#fff"},{"offset":0.3989,"color":"#000"},{"offset":0.4344,"color":"#000"},{"offset":0.4344,"color":"#fff"},{"offset":0.5656,"color":"#fff"},{"offset":0.5656,"color":"#000"},{"offset":0.6011,"color":"#000"},{"offset":0.6011,"color":"#fff"},{"offset":0.7323,"color":"#fff"},{"offset":0.7323,"color":"#000"},{"offset":0.7678,"color":"#000"},{"offset":0.7678,"color":"#fff"},{"offset":0.8989,"color":"#fff"},{"offset":0.8989,"color":"#000"},{"offset":0.9344,"color":"#000"},{"offset":0.9344,"color":"#fff"}]}},"encoding":{"x2":{"field":"r2"},"y2":{"field":"a2"}}},
{"data":{"name":"leg"},"transform":[{"filter":"datum.k=='dash'"}],"mark":{"type":"rule","strokeDash":[3,1.5],"strokeWidth":1,"color":"black"},"encoding":{"x2":{"field":"r2"}}},
{"data":{"name":"leg"},"transform":[{"filter":"datum.k=='line'"}],"mark":{"type":"rule","strokeWidth":1,"color":"black"},"encoding":{"x2":{"field":"r2"}}},
{"data":{"name":"leg"},"transform":[{"filter":"datum.k=='pt'"}],"mark":{"type":"point","shape":"circle","filled":true,"fill":"white","stroke":"black","strokeWidth":1,"size":110,"opacity":1}},
{"data":{"name":"txt"},"transform":[{"filter":"datum.p==0||datum.p==6"}],"mark":{"type":"text","align":"left","baseline":"alphabetic","font":"Liberation Serif","fontSize":15,"color":"black"},"encoding":{"text":{"field":"t"}}},
{"data":{"name":"itxt"},"transform":[{"filter":"datum.p==0||datum.p==6"}],"mark":{"type":"text","align":"left","baseline":"alphabetic","font":"Liberation Serif","fontSize":15,"fontStyle":"italic","color":"black"},"encoding":{"text":{"field":"t"}}},
{"data":{"name":"stxt"},"mark":{"type":"text","align":"left","baseline":"alphabetic","font":"Liberation Serif","fontSize":8,"dy":4,"color":"black"},"encoding":{"text":{"field":"t"}}}
]}
],
"config":{
"view":{"stroke":null},
"font":"Liberation Serif",
"axis":{"domainColor":"black","domainWidth":2,"tickColor":"black","tickWidth":1.5,"tickSize":-5,"grid":false,"labelFont":"Liberation Serif","labelFontSize":21,"labelColor":"black","labelPadding":13,"labelFlush":false,"labelOverlap":false,"labelBound":false,"titleFont":"Liberation Serif","titleFontSize":18,"titleFontWeight":"normal","titleColor":"black"}
}
}
